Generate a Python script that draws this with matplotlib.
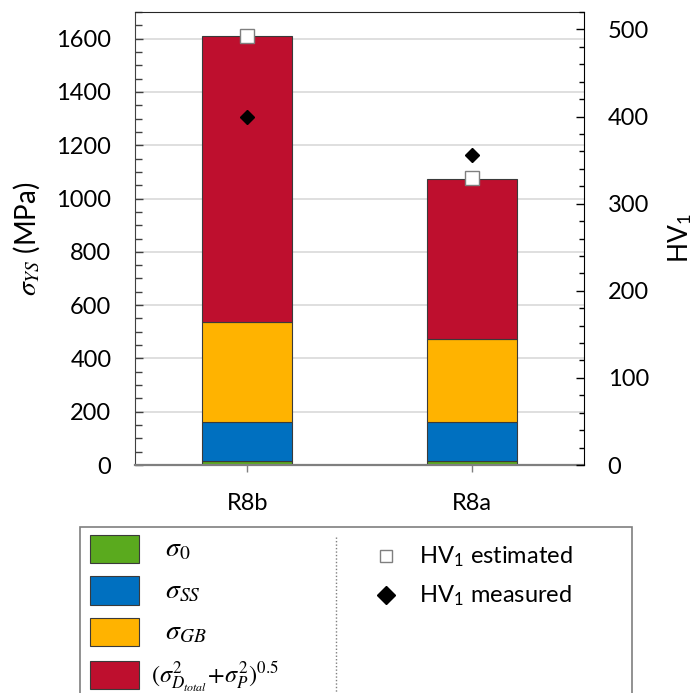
import numpy as np
import matplotlib
matplotlib.use('Agg')
import matplotlib.pyplot as plt
from matplotlib.patches import Patch, Rectangle
from matplotlib.lines import Line2D
from matplotlib.ticker import MultipleLocator

plt.rcParams['font.family'] = ['Lato', 'DejaVu Sans']
plt.rcParams['mathtext.fontset'] = 'stix'

# amostras e contribuicoes para a tensao de escoamento (MPa)
samples = ['R8b', 'R8a']
sigma_0 = [16, 16]
sigma_ss = [147, 147]
sigma_gb = [373, 311]
sigma_dp = [1075, 599]

# dureza Vickers (HV1)
hv_est = [493, 329]
hv_meas = [399, 356]

colors = ['#5AAA1E', '#0070C0', '#FFB300', '#BE0F2E']
labels = [r'  $\sigma_0$', r'  $\sigma_{SS}$', r'  $\sigma_{GB}$',
          r'$(\sigma^2_{D_{total}}\!+\!\sigma^2_P)^{0.5}$']

fs = 17
fig = plt.figure(figsize=(6.93, 6.93), dpi=100)
ax = fig.add_axes([135/693, 1-465/693, 449/693, 453/693])

x = np.arange(len(samples))
bottom = np.zeros(len(samples))
for vals, c in zip([sigma_0, sigma_ss, sigma_gb, sigma_dp], colors):
    ax.bar(x, vals, width=0.4, bottom=bottom, color=c, edgecolor='#3a3a3a', linewidth=0.8, zorder=2)
    bottom += np.array(vals)

ax.set_xlim(-0.5, 1.5)
ax.set_ylim(0, 1700)
ax.yaxis.set_major_locator(MultipleLocator(200))
ax.yaxis.set_minor_locator(MultipleLocator(50))
ax.set_xticks(x)
ax.set_xticklabels(samples, fontsize=fs)
ax.tick_params(axis='y', which='major', direction='in', length=6, width=1, pad=17, labelsize=fs, color='#404040')
ax.tick_params(axis='y', which='minor', direction='in', length=5, width=1, color='#404040')
ax.tick_params(axis='x', direction='out', length=5, width=1, pad=15, color='#7F7F7F')
ax.grid(axis='y', which='major', color='#D9D9D9', linewidth=1.2, zorder=0)
ax.set_axisbelow(True)
ax.spines['right'].set_visible(False)
ax.spines['top'].set_color('#262626')
ax.spines['left'].set_color('#404040')
ax.spines['bottom'].set_color('#7F7F7F')
ax.spines['bottom'].set_linewidth(1.6)
ax.set_ylabel(r'$\sigma_{YS}$ (MPa)', fontsize=20)
ax.yaxis.set_label_coords(-0.207, 0.5)

# eixo da direita: dureza
ax2 = ax.twinx()
ax2.plot(x, hv_est, 's', ms=10, mfc='white', mec='#7F7F7F', mew=1, zorder=5)
ax2.plot(x, hv_meas, 'D', ms=7.5, color='black', zorder=5)
ax2.set_ylim(0, 520)
ax2.yaxis.set_major_locator(MultipleLocator(100))
ax2.yaxis.set_minor_locator(MultipleLocator(20))
ax2.tick_params(axis='y', which='major', direction='in', length=5.5, width=1, pad=17, labelsize=fs)
ax2.tick_params(axis='y', which='minor', direction='in', length=3.5, width=1)
for s in ['left', 'top', 'bottom']:
    ax2.spines[s].set_visible(False)
ax2.spines['right'].set_color('black')
ax2.set_ylabel(r'HV$_{\mathregular{1}}$', fontsize=19)
ax2.yaxis.set_label_coords(1.183, 0.5)

# legenda em caixa abaixo do grafico
fig.add_artist(Rectangle((80/693, -0.1), 552/693, 0.1 + 1 - 527/693, transform=fig.transFigure,
                         fill=False, edgecolor='#7F7F7F', linewidth=1.2))
fig.add_artist(Line2D([336/693, 336/693], [1 - 537/693, 0], transform=fig.transFigure,
                      color='#7F7F7F', linewidth=1, linestyle=(0, (1, 1.5))))

h1 = [Patch(facecolor=c, edgecolor='#3a3a3a', linewidth=0.8) for c in colors]
leg1 = fig.legend(h1, labels, loc='upper left', bbox_to_anchor=(90/693, 1 - 535/693), frameon=False,
                  borderpad=0, borderaxespad=0, handlelength=2.07, handleheight=1.45,
                  labelspacing=0.57, handletextpad=0.5, fontsize=fs)
for t in leg1.get_texts()[:3]:
    t.set_fontsize(20)
leg1.get_texts()[3].set_fontsize(17.5)

h2 = [Line2D([], [], marker='s', ls='none', ms=9, mfc='white', mec='#7F7F7F', mew=1),
      Line2D([], [], marker='D', ls='none', ms=9.5, color='black')]
fig.legend(h2, [r'HV$_{\mathregular{1}}$ estimated', r'HV$_{\mathregular{1}}$ measured'],
           loc='upper left', bbox_to_anchor=(374/693, 1 - 545/693), frameon=False,
           borderpad=0, borderaxespad=0, handlelength=1.0, labelspacing=0.62,
           handletextpad=0.9, fontsize=fs)

fig.savefig('out.png', dpi=100)
